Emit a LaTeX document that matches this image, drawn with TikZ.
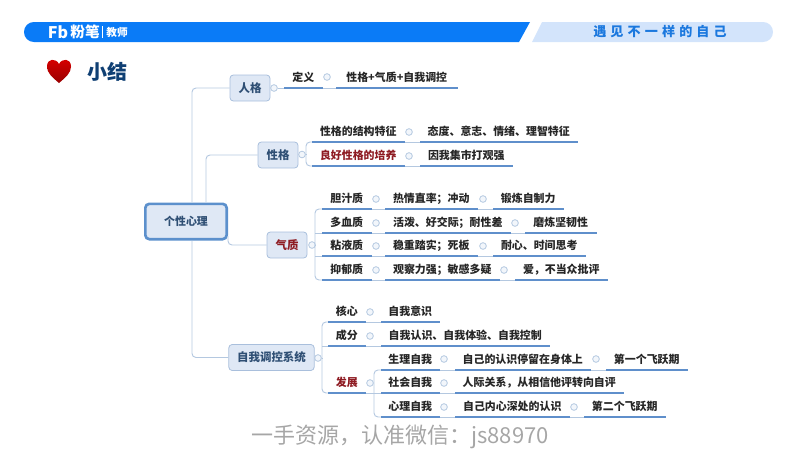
\documentclass[tikz,border=0pt]{standalone}
\usepackage{xcolor}
\usepackage{fontspec}
\setmainfont{Noto Sans CJK SC}
\definecolor{barblue}{HTML}{0A7BF7}
\definecolor{barpale}{HTML}{D3E4FB}
\definecolor{barink}{HTML}{1B78DE}
\definecolor{titleink}{HTML}{0F3F73}
\definecolor{boxfill}{HTML}{DFE8F5}
\definecolor{boxline}{HTML}{A9BFDC}
\definecolor{boxink}{HTML}{2F4F74}
\definecolor{coreline}{HTML}{5C90CC}
\definecolor{leafline}{HTML}{5F8FCB}
\definecolor{branchline}{HTML}{B4C8E0}
\definecolor{redink}{HTML}{8E1B22}
\definecolor{markgrey}{HTML}{A6A6A6}
\tikzset{
	topic/.style={draw=boxline, fill=boxfill, rounded corners=2.5pt, line width=.6pt, text=boxink,
		font=\fontsize{8.6}{10}\selectfont\bfseries, inner sep=0pt, minimum height=19.5pt},
	leaf/.style={anchor=south west, minimum width=#1*.75pt, minimum height=15pt, inner sep=0pt,
		text=black!85, font=\fontsize{8.2}{10}\selectfont\bfseries},
	underline/.style={draw=leafline, line width=1.3pt},
	branch/.style={draw=branchline, line width=.7pt, rounded corners=3pt},
	toggle/.style={circle, draw=branchline, fill=boxfill!40, line width=.6pt, minimum size=5pt, inner sep=0pt},
}
\begin{document}
\begin{tikzpicture}[x=.75pt, y=-.75pt]
	\useasboundingbox (0,0) rectangle (800,450);
	% Top banner
	\fill[barblue] (530,22) -- (519,42) [rounded corners=7.4pt] -- (24,42) -- (24,22) [sharp corners] -- cycle;
	\fill[barpale] (542,22) -- (532,42) [rounded corners=7.4pt] -- (773,42) -- (773,22) [sharp corners] -- cycle;
	\node[text=white, font=\fontsize{12}{12}\selectfont\bfseries] (logo) at (58,32) {Fb};
	\node[text=white, font=\fontsize{11}{12}\selectfont\bfseries] (brand) at (85,32) {粉笔};
	\draw[white, line width=.4pt] (102.5,26) -- (102.5,38);
	\node[text=white, font=\fontsize{8}{10}\selectfont\bfseries] (role) at (117,32.5) {教师};
	\node[text=barink, font=\fontsize{9.8}{12}\selectfont\bfseries] (slogan) at (660,32)
		{遇\hspace{3.1pt}见\hspace{3.1pt}不\hspace{3.1pt}一\hspace{3.1pt}样\hspace{3.1pt}的\hspace{3.1pt}自\hspace{3.1pt}己};
	% Heart and title
	\shade[top color=red!85!black, bottom color=red!60!black]
		(59,83) .. controls (52,77) and (47,73) .. (47,66.5) .. controls (47,58) and (56,58) .. (59,64)
		.. controls (62,58) and (71,58) .. (71,66.5) .. controls (71,73) and (66,77) .. (59,83) -- cycle;
	\node[text=titleink, font=\fontsize{15}{18}\selectfont\bfseries] (title) at (107,72) {小结};
	% Topics
	\node[topic, draw=coreline, line width=2pt, rounded corners=3pt, minimum width=61pt, minimum height=26.5pt,
		font=\fontsize{8.2}{10}\selectfont\bfseries] (core) at (186,221.5) {个性心理};
	\node[topic, minimum width=30pt] (rg) at (250,88) {人格};
	\node[topic, minimum width=30pt] (xg) at (278,155) {性格};
	\node[topic, minimum width=30pt, text=redink] (qz) at (287,245) {气质};
	\node[topic, minimum width=64pt] (zw) at (271.5,357.5) {自我调控系统};
	% Toggles beside the topics
	\node[toggle] (rgT) at (274,88) {};
	\node[toggle] (xgT) at (302,154.5) {};
	\node[toggle] (qzT) at (312,245) {};
	\node[toggle] (zwT) at (318,358) {};
	% Row of the first topic
	\node[leaf=38] (rg1) at (284,88) {定义};
	\node[leaf=121] (rg2) at (336,88) {性格+气质+自我调控};
	\node[toggle] (rg1T) at (327,77) {};
	% Rows of the second topic
	\node[leaf=92] (xg1) at (312,142) {性格的结构特征};
	\node[leaf=157] (xg1a) at (420,142) {态度、意志、情绪、理智特征};
	\node[toggle] (xg1T) at (409,132) {};
	\node[leaf=92, text=redink] (xg2) at (312,166) {良好性格的培养};
	\node[leaf=92] (xg2a) at (420,166) {因我集市打观强};
	\node[toggle] (xg2T) at (409,156) {};
	% Rows of the third topic
	\node[leaf=49] (qz1) at (322,209) {胆汁质};
	\node[leaf=92] (qz1a) at (385,209) {热情直率；冲动};
	\node[leaf=70] (qz1b) at (493,209) {锻炼自制力};
	\node[toggle] (qz1T) at (376,199) {};
	\node[toggle] (qz1aT) at (483,199) {};
	\node[leaf=49] (qz2) at (322,233) {多血质};
	\node[leaf=125] (qz2a) at (385,233) {活泼、好交际；耐性差};
	\node[leaf=71] (qz2b) at (525,233) {磨炼坚韧性};
	\node[toggle] (qz2T) at (376,223) {};
	\node[toggle] (qz2aT) at (515,223) {};
	\node[leaf=49] (qz3) at (322,256) {粘液质};
	\node[leaf=92] (qz3a) at (385,256) {稳重踏实；死板};
	\node[leaf=92] (qz3b) at (493,256) {耐心、时间思考};
	\node[toggle] (qz3T) at (376,246) {};
	\node[toggle] (qz3aT) at (483,246) {};
	\node[leaf=49] (qz4) at (322,280) {抑郁质};
	\node[leaf=114] (qz4a) at (385,280) {观察力强；敏感多疑};
	\node[leaf=92] (qz4b) at (515,280) {爱，不当众批评};
	\node[toggle] (qz4T) at (376,270) {};
	\node[toggle] (qz4aT) at (504,270) {};
	% Rows of the fourth topic
	\node[leaf=37] (zw1) at (328,322) {核心};
	\node[leaf=58] (zw1a) at (381,322) {自我意识};
	\node[toggle] (zw1T) at (370,312) {};
	\node[leaf=37] (zw2) at (328,346) {成分};
	\node[leaf=168] (zw2a) at (381,346) {自我认识、自我体验、自我控制};
	\node[toggle] (zw2T) at (370,336) {};
	\node[leaf=37, text=redink] (zw3) at (328,393) {发展};
	\node[toggle] (zw3T) at (370,383) {};
	\node[leaf=58] (fz1) at (381,370) {生理自我};
	\node[leaf=135] (fz1a) at (455,370) {自己的认识停留在身体上};
	\node[leaf=81] (fz1b) at (606,370) {第一个飞跃期};
	\node[toggle] (fz1T) at (444,359) {};
	\node[toggle] (fz1aT) at (596,359) {};
	\node[leaf=58] (fz2) at (381,393) {社会自我};
	\node[leaf=168] (fz2a) at (455,393) {人际关系，从相信他评转向自评};
	\node[toggle] (fz2T) at (444,383) {};
	\node[leaf=58] (fz3) at (381,417) {心理自我};
	\node[leaf=114] (fz3a) at (455,417) {自己内心深处的认识};
	\node[leaf=81] (fz3b) at (584,417) {第二个飞跃期};
	\node[toggle] (fz3T) at (444,407) {};
	\node[toggle] (fz3aT) at (574,407) {};
	% Watermark
	\node[text=markgrey, font=\fontsize{16.5}{20}\selectfont] (mark) at (400,437) {一手资源，认准微信：js88970};
	% Junction points of the branches
	\coordinate (coreA) at (192,202);
	\coordinate (coreB) at (206,202);
	\coordinate (coreC) at (228,236);
	\coordinate (coreD) at (192,241);
	\coordinate (xgJ) at (306,154.5);
	\coordinate (qzJ) at (315,245);
	\coordinate (zwJ) at (322,358);
	\coordinate (fzJ) at (374,393);
	% Drawing the edges
	%% From the centre
	\draw[branch] (coreA) |- (rg.west);
	\draw[branch] (coreB) |- (xg.west);
	\draw[branch] (coreC) |- (qz.west);
	\draw[branch] (coreD) |- (zw.west);
	%% Brackets
	\draw[branch] (rgT.east) -- (rg1.south west);
	\draw[branch] (xgT.east) -- (xgJ);
	\draw[branch] (qzT.east) -- (qzJ);
	\draw[branch] (zwT.east) -- (zwJ);
	\draw[branch] (xg1.south west) -| (xgJ) |- (xg2.south west);
	\draw[branch] (qz1.south west) -| (qzJ) |- (qz4.south west);
	\draw[branch] (qz2.south west) -- (qz2.south west -| qzJ);
	\draw[branch] (qz3.south west) -- (qz3.south west -| qzJ);
	\draw[branch] (zw1.south west) -| (zwJ) |- (zw3.south west);
	\draw[branch] (zw2.south west) -- (zw2.south west -| zwJ);
	\draw[branch] (fz1.south west) -| (fzJ) |- (fz3.south west);
	\draw[branch] (zw3.south east) -- (fz2.south west);
	%% Along the rows
	\draw[branch] (rg1.south east) -- (rg2.south west);
	\draw[branch] (xg1.south east) -- (xg1a.south west);
	\draw[branch] (xg2.south east) -- (xg2a.south west);
	\draw[branch] (qz1.south east) -- (qz1a.south west);
	\draw[branch] (qz1a.south east) -- (qz1b.south west);
	\draw[branch] (qz2.south east) -- (qz2a.south west);
	\draw[branch] (qz2a.south east) -- (qz2b.south west);
	\draw[branch] (qz3.south east) -- (qz3a.south west);
	\draw[branch] (qz3a.south east) -- (qz3b.south west);
	\draw[branch] (qz4.south east) -- (qz4a.south west);
	\draw[branch] (qz4a.south east) -- (qz4b.south west);
	\draw[branch] (zw1.south east) -- (zw1a.south west);
	\draw[branch] (zw2.south east) -- (zw2a.south west);
	\draw[branch] (fz1.south east) -- (fz1a.south west);
	\draw[branch] (fz1a.south east) -- (fz1b.south west);
	\draw[branch] (fz2.south east) -- (fz2a.south west);
	\draw[branch] (fz3.south east) -- (fz3a.south west);
	\draw[branch] (fz3a.south east) -- (fz3b.south west);
	%% Underlines of the rows
	\foreach \leafname in {rg1,rg2,xg1,xg1a,xg2,xg2a,qz1,qz1a,qz1b,qz2,qz2a,qz2b,qz3,qz3a,qz3b,qz4,qz4a,qz4b,
		zw1,zw1a,zw2,zw2a,zw3,fz1,fz1a,fz1b,fz2,fz2a,fz3,fz3a,fz3b}
		\draw[underline] (\leafname.south west) -- (\leafname.south east);
\end{tikzpicture}
\end{document}
